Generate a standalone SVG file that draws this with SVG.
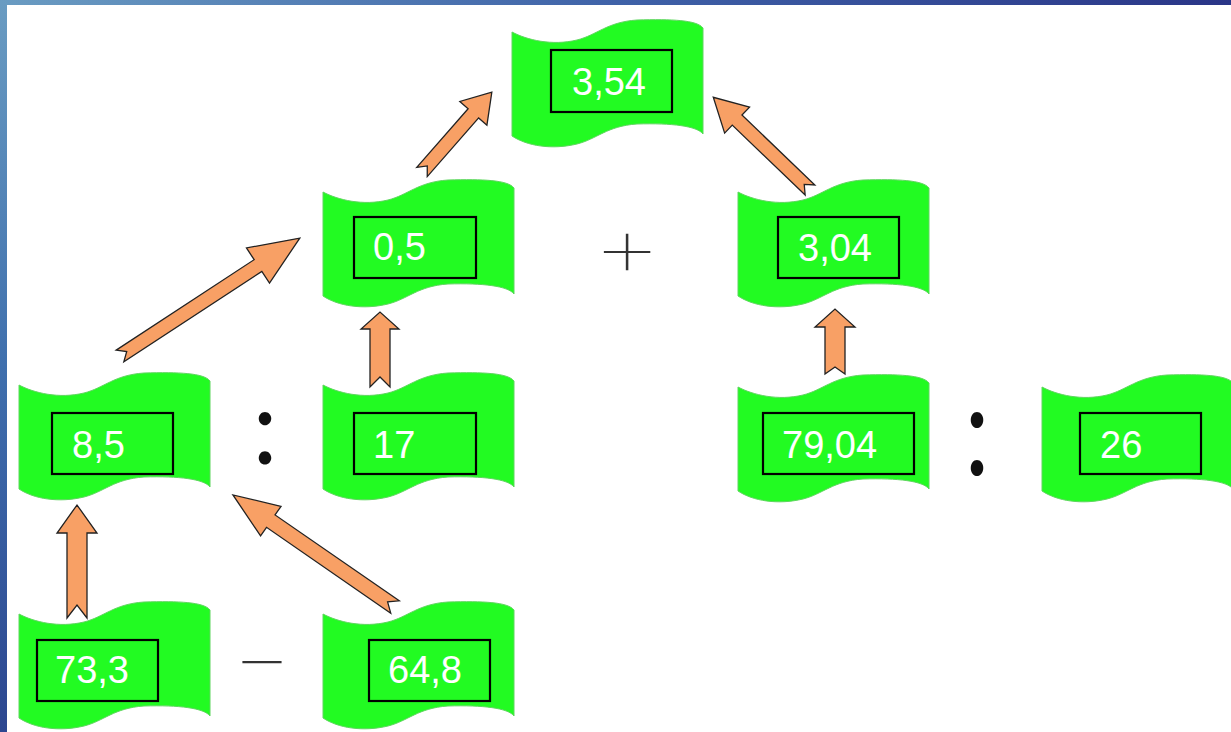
<svg xmlns="http://www.w3.org/2000/svg" xmlns:xlink="http://www.w3.org/1999/xlink" width="1231" height="732" viewBox="0 0 1231 732">
<defs>
<linearGradient id="topg" x1="0" y1="0" x2="1" y2="0">
<stop offset="0" stop-color="#6a9cc2"/><stop offset="0.5" stop-color="#3f62a8"/><stop offset="1" stop-color="#2a3587"/>
</linearGradient>
<linearGradient id="leftg" x1="0" y1="0" x2="0" y2="1">
<stop offset="0" stop-color="#6a9cc2"/><stop offset="0.5" stop-color="#3f6fad"/><stop offset="1" stop-color="#2c4690"/>
</linearGradient>
<path id="flag" d="M0,12 C15,20 40,26 65,20 C85,15 95,2 125,0 C160,-1 185,0 191,8 L191,114 C185,106 160,103 125,104 C95,106 85,119 65,124 C40,130 15,126 0,116 Z"/>
<style>
.flag{fill:#22fb22;stroke:#5fd65f;stroke-width:1}
.box{fill:#22fb22;stroke:#000;stroke-width:2.2}
.val{font-family:"Liberation Sans",Arial,sans-serif;font-size:38px;fill:#fff}
.arrow{fill:#f8a065;stroke:#222;stroke-width:1.3;stroke-linejoin:miter}
.op{font-family:Inter,"DejaVu Sans",sans-serif;font-weight:100;fill:#333}
.colon{font-family:Lato,"Liberation Sans",sans-serif;font-weight:normal;font-size:100px;fill:#111}
</style>
</defs>
<rect width="1231" height="732" fill="url(#leftg)"/>
<rect width="1231" height="5" fill="url(#topg)"/>
<rect x="7" y="5" width="1224" height="727" fill="#fff"/>

<g id="n354"><use href="#flag" class="flag" x="512" y="20"/><rect class="box" x="551" y="50" width="121" height="62"/><text class="val" x="572" y="95">3,54</text></g>
<g id="n05"><use href="#flag" class="flag" x="323" y="180"/><rect class="box" x="354" y="217" width="122" height="61"/><text class="val" x="373" y="260">0,5</text></g>
<g id="n304"><use href="#flag" class="flag" x="738" y="180"/><rect class="box" x="778" y="217" width="121" height="61"/><text class="val" x="798" y="261">3,04</text></g>
<g id="n85"><use href="#flag" class="flag" x="19" y="373"/><rect class="box" x="52" y="413" width="121" height="61"/><text class="val" x="72" y="458">8,5</text></g>
<g id="n17"><use href="#flag" class="flag" x="323" y="373"/><rect class="box" x="354" y="413" width="122" height="61"/><text class="val" x="373" y="458">17</text></g>
<g id="n7904"><use href="#flag" class="flag" x="738" y="375"/><rect class="box" x="763" y="413" width="151" height="61"/><text class="val" x="782" y="458">79,04</text></g>
<g id="n26"><use href="#flag" class="flag" x="1042" y="375"/><rect class="box" x="1080" y="413" width="121" height="61"/><text class="val" x="1100" y="458">26</text></g>
<g id="n733"><use href="#flag" class="flag" x="19" y="602"/><rect class="box" x="37" y="640" width="121" height="61"/><text class="val" x="55" y="683">73,3</text></g>
<g id="n648"><use href="#flag" class="flag" x="323" y="602"/><rect class="box" x="369" y="640" width="121" height="61"/><text class="val" x="388" y="683">64,8</text></g>

<g id="operators">
<text class="op" font-size="88" text-anchor="middle" transform="translate(627,277) scale(1.28,1)">+</text>
<text class="op" x="262" y="689" font-size="95" text-anchor="middle">−</text>
<text class="colon" text-anchor="middle" transform="translate(265,464) scale(1,1.04)">:</text>
<text class="colon" text-anchor="middle" transform="translate(977,475) scale(1,1.28)">:</text>
</g>

<g id="connectors">
<polygon class="arrow" transform="translate(77,618) rotate(-90)" points="0,-10 85,-10 85,-20 113,0 85,20 85,10 0,10 13,0"/>
<polygon class="arrow" transform="translate(395,607) rotate(-145.34)" points="0,-7.5 151,-7.5 151,-18 197,0 151,18 151,7.5 0,7.5 9,0"/>
<polygon class="arrow" transform="translate(380,387) rotate(-90)" points="0,-10 58,-10 58,-19 75,0 58,19 58,10 0,10 10,0"/>
<polygon class="arrow" transform="translate(120,356) rotate(-33.25)" points="0,-7 165,-7 165,-21 215,0 165,21 165,7 0,7 8,0"/>
<polygon class="arrow" transform="translate(422,172) rotate(-48.8)" points="0,-7 78,-7 78,-18 106,0 78,18 78,7 0,7 8,0"/>
<polygon class="arrow" transform="translate(810,190) rotate(-136.2)" points="0,-7 101,-7 101,-18 134,0 101,18 101,7 0,7 8,0"/>
<polygon class="arrow" transform="translate(835,374) rotate(-90)" points="0,-10 47,-10 47,-20 65,0 47,20 47,10 0,10 7,0"/>
</g>
</svg>
